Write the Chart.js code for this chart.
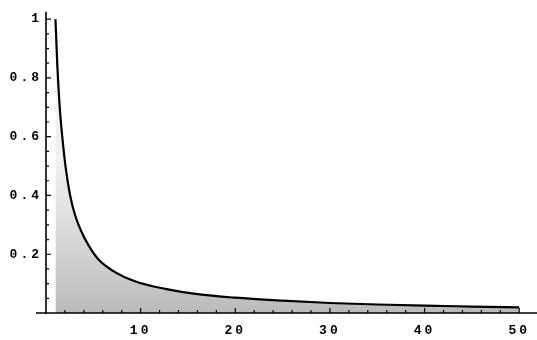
<!DOCTYPE html>
<html>
<head>
<meta charset="utf-8">
<script src="https://cdn.jsdelivr.net/npm/chart.js@4.4.1/dist/chart.umd.min.js"></script>
<style>
  html, body { margin: 0; padding: 0; background: #fff; }
  #wrap { width: 537px; height: 340px; }
</style>
</head>
<body>
<div id="wrap"><canvas id="grafica"></canvas></div>
<script>
// Valores (curva decreciente)
var valoresX = [1, 1.2, 1.45, 1.75, 2.1, 2.55, 3.1, 3.7, 4.5, 5.6, 7.2, 9.4, 12.6, 16, 20, 25, 30, 35, 40, 45, 50];
var valoresY = [1, 0.84, 0.7, 0.59, 0.49, 0.4, 0.33, 0.28, 0.23, 0.18, 0.141, 0.108, 0.082, 0.064, 0.052, 0.042, 0.034, 0.029, 0.025, 0.022, 0.019];
var marcasX = [10, 20, 30, 40, 50];
var marcasY = [0.2, 0.4, 0.6, 0.8, 1];

var puntos = valoresX.map(function (x, i) { return { x: x, y: valoresY[i] }; });

var fuente = { family: '"Liberation Mono", "DejaVu Sans Mono", monospace', size: 13, weight: 'bold' };

// Relleno gris, más oscuro cerca del eje
function rellenoGris(context) {
    var chart = context.chart;
    var area = chart.chartArea;
    if (!area) return 'rgba(180,180,180,0.4)';
    var y = chart.scales.y;
    var g = chart.ctx.createLinearGradient(0, y.getPixelForValue(0), 0, y.getPixelForValue(1));
    g.addColorStop(0, 'rgba(140,140,140,0.6)');
    g.addColorStop(0.25, 'rgba(165,165,165,0.45)');
    g.addColorStop(0.5, 'rgba(200,200,200,0.3)');
    g.addColorStop(1, 'rgba(235,235,235,0.2)');
    return g;
}

// Ejes y marcas hacia adentro, al estilo del original
var ejesPlugin = {
    id: 'ejes',
    beforeDraw: function (chart) {
        chart.ctx.letterSpacing = '3px';
    },
    afterDatasetsDraw: function (chart) {
        var ctx = chart.ctx;
        var sx = chart.scales.x, sy = chart.scales.y;
        var x0 = sx.getPixelForValue(0), y0 = sy.getPixelForValue(0);
        ctx.save();
        ctx.strokeStyle = '#000';
        ctx.lineWidth = 1.6;
        ctx.beginPath();
        ctx.moveTo(x0 - 10, y0);
        ctx.lineTo(chart.width, y0);
        ctx.moveTo(x0, y0 + 1);
        ctx.lineTo(x0, chart.chartArea.top);
        ctx.stroke();
        ctx.lineWidth = 1.2;
        ctx.beginPath();
        for (var v = 2; v <= 50; v += 2) {
            var px = sx.getPixelForValue(v);
            var len = (v % 10 === 0) ? 5 : 3;
            ctx.moveTo(px, y0);
            ctx.lineTo(px, y0 - len);
        }
        for (var k = 1; k <= 20; k++) {
            var py = sy.getPixelForValue(k * 0.05);
            var l = (k % 4 === 0) ? 5 : 3;
            ctx.moveTo(x0, py);
            ctx.lineTo(x0 + l, py);
        }
        ctx.stroke();
        ctx.restore();
    }
};

var ctx = document.getElementById('grafica').getContext('2d');
var grafica = new Chart(ctx, {
    type: 'line',
    data: {
        datasets: [{
            data: puntos,
            borderColor: '#000',
            borderWidth: 2.2,
            pointRadius: 0,
            cubicInterpolationMode: 'monotone',
            fill: 'origin',
            backgroundColor: rellenoGris
        }]
    },
    options: {
        responsive: true,
        maintainAspectRatio: false,
        animation: false,
        layout: { padding: { top: 5, right: 0, left: 0, bottom: 0 } },
        plugins: {
            legend: { display: false },
            tooltip: { enabled: false }
        },
        scales: {
            x: {
                type: 'linear',
                min: 0,
                max: 51,
                grid: { display: false, drawTicks: false },
                border: { display: false },
                afterFit: function (scale) { scale.height = 27; },
                afterBuildTicks: function (scale) {
                    scale.ticks = marcasX.map(function (v) { return { value: v }; });
                },
                ticks: {
                    padding: 10,
                    color: '#000',
                    font: fuente,
                    maxRotation: 0,
                    callback: function (v) { return String(v); }
                }
            },
            y: {
                type: 'linear',
                min: 0,
                max: 1.025,
                grid: { display: false, drawTicks: false },
                border: { display: false },
                afterFit: function (scale) { scale.width = 46; },
                afterBuildTicks: function (scale) {
                    scale.ticks = marcasY.map(function (v) { return { value: v }; });
                },
                ticks: {
                    padding: 4,
                    color: '#000',
                    font: fuente,
                    callback: function (v) { return v === 1 ? '1' : v.toFixed(1); }
                }
            }
        }
    },
    plugins: [ejesPlugin]
});
</script>
</body>
</html>
